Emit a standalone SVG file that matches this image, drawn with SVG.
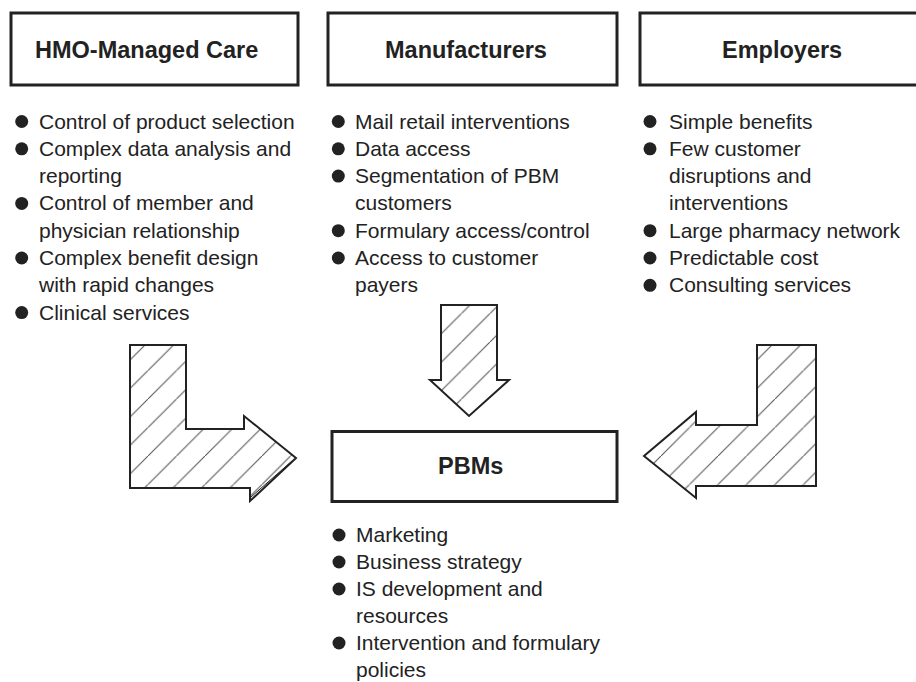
<svg xmlns="http://www.w3.org/2000/svg" width="916" height="682" viewBox="0 0 916 682">
<style>
.box{fill:#fff;stroke:#222;stroke-width:3}
.title{font-family:"Liberation Sans",Arial,sans-serif;font-weight:bold;font-size:23.5px;fill:#222}
.item{font-family:"Liberation Sans",Arial,sans-serif;font-size:21px;fill:#222}
.dot{fill:#222}
.arrow{fill:url(#hatch);stroke:#222;stroke-width:2;stroke-linejoin:miter}
</style>
<defs>
<pattern id="hatch" patternUnits="userSpaceOnUse" width="28.5" height="28.5" x="5.5" y="0">
<rect width="28.5" height="28.5" fill="#fff"/>
<path d="M-2,30.5 L30.5,-2" stroke="#555" stroke-width="1" fill="none"/>
</pattern>
</defs>
<rect width="916" height="682" fill="#fff"/>

<g id="hmo">
<rect class="box" x="11" y="13" width="287" height="72"/>
<text class="title" x="35" y="58">HMO-Managed Care</text>
</g>
<g id="manufacturers">
<rect class="box" x="328" y="13" width="289" height="72"/>
<text class="title" x="385" y="58">Manufacturers</text>
</g>
<g id="employers">
<rect class="box" x="640" y="13" width="282" height="72"/>
<text class="title" x="722" y="58">Employers</text>
</g>
<g id="pbms">
<rect class="box" x="332" y="431.5" width="285" height="70"/>
<text class="title" x="438" y="474">PBMs</text>
</g>

<g id="hmo-list">
<circle class="dot" cx="21.7" cy="121.5" r="6.5"/>
<text class="item" x="39" y="128.5">Control of product selection</text>
<circle class="dot" cx="21.7" cy="148.8" r="6.5"/>
<text class="item" x="39" y="155.8">Complex data analysis and</text>
<text class="item" x="39" y="183.1">reporting</text>
<circle class="dot" cx="21.7" cy="203.4" r="6.5"/>
<text class="item" x="39" y="210.4">Control of member and</text>
<text class="item" x="39" y="237.7">physician relationship</text>
<circle class="dot" cx="21.7" cy="258" r="6.5"/>
<text class="item" x="39" y="265">Complex benefit design</text>
<text class="item" x="39" y="292.3">with rapid changes</text>
<circle class="dot" cx="21.7" cy="312.6" r="6.5"/>
<text class="item" x="39" y="319.6">Clinical services</text>
</g>

<g id="manufacturers-list">
<circle class="dot" cx="338.3" cy="121.5" r="6.5"/>
<text class="item" x="355" y="128.5">Mail retail interventions</text>
<circle class="dot" cx="338.3" cy="148.8" r="6.5"/>
<text class="item" x="355" y="155.8">Data access</text>
<circle class="dot" cx="338.3" cy="176.1" r="6.5"/>
<text class="item" x="355" y="183.1">Segmentation of PBM</text>
<text class="item" x="355" y="210.4">customers</text>
<circle class="dot" cx="338.3" cy="230.7" r="6.5"/>
<text class="item" x="355" y="237.7">Formulary access/control</text>
<circle class="dot" cx="338.3" cy="258" r="6.5"/>
<text class="item" x="355" y="265">Access to customer</text>
<text class="item" x="355" y="292.3">payers</text>
</g>

<g id="employers-list">
<circle class="dot" cx="650" cy="121.5" r="6.5"/>
<text class="item" x="669" y="128.5">Simple benefits</text>
<circle class="dot" cx="650" cy="148.8" r="6.5"/>
<text class="item" x="669" y="155.8">Few customer</text>
<text class="item" x="669" y="183.1">disruptions and</text>
<text class="item" x="669" y="210.4">interventions</text>
<circle class="dot" cx="650" cy="230.7" r="6.5"/>
<text class="item" x="669" y="237.7">Large pharmacy network</text>
<circle class="dot" cx="650" cy="258" r="6.5"/>
<text class="item" x="669" y="265">Predictable cost</text>
<circle class="dot" cx="650" cy="285.3" r="6.5"/>
<text class="item" x="669" y="292.3">Consulting services</text>
</g>

<g id="pbms-list">
<circle class="dot" cx="339" cy="535" r="6.5"/>
<text class="item" x="356" y="542">Marketing</text>
<circle class="dot" cx="339" cy="562" r="6.5"/>
<text class="item" x="356" y="569">Business strategy</text>
<circle class="dot" cx="339" cy="589" r="6.5"/>
<text class="item" x="356" y="596">IS development and</text>
<text class="item" x="356" y="623">resources</text>
<circle class="dot" cx="339" cy="643" r="6.5"/>
<text class="item" x="356" y="650">Intervention and formulary</text>
<text class="item" x="356" y="677">policies</text>
</g>

<g id="connectors">
<path class="arrow" d="M130,345 L186,345 L186,429 L244,429 L244,416 L296,458 L250,501 L250,488 L130,488 Z"/>
<path d="M292,461 L251,497" stroke="#222" stroke-width="1" fill="none"/>
<path class="arrow" d="M441,305 L497,305 L497,380 L509,380 L469,416 L430,380 L441,380 Z"/>
<path class="arrow" d="M757,345 L816,345 L816,486 L696,486 L696,498 L644,456 L696,412 L696,425 L757,425 Z"/>
</g>
</svg>
